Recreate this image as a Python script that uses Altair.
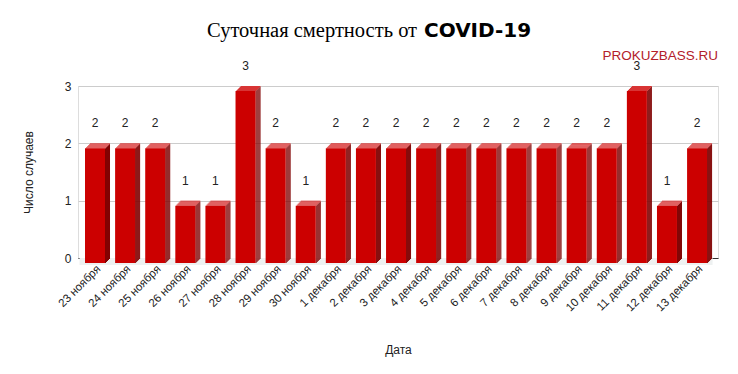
import altair as alt
import pandas as pd

dates = ["23 ноября", "24 ноября", "25 ноября", "26 ноября", "27 ноября", "28 ноября",
         "29 ноября", "30 ноября", "1 декабря", "2 декабря", "3 декабря", "4 декабря",
         "5 декабря", "6 декабря", "7 декабря", "8 декабря", "9 декабря", "10 декабря",
         "11 декабря", "12 декабря", "13 декабря"]
deaths = [2, 2, 2, 1, 1, 3, 2, 1, 2, 2, 2, 2, 2, 2, 2, 2, 2, 2, 3, 1, 2]
y_ticks = [0, 1, 2, 3]

title_serif = "Суточная смертность от"
title_bold = "COVID-19"
watermark = "PROKUZBASS.RU"
x_title = "Дата"
y_title = "Число случаев"

df = pd.DataFrame({"date": dates, "value": deaths, "zero": [0] * len(dates)})

FRONT = "#cc0000"
SIDE = "#800000"
TOP = "#d83434"
FONT = "Liberation Sans"

xscale = alt.Scale(domain=dates, paddingInner=0, paddingOuter=0.13, align=0.25)
yscale = alt.Scale(domain=[0, 3])

x_axis = alt.Axis(title=x_title, labelAngle=315, labelAlign="right", labelBaseline="middle",
                  labelPadding=9, labelOffset=4, ticks=False, grid=False, domainColor="#333333",
                  labelFontSize=11.5, labelColor="#222222", labelFont=FONT,
                  titleFont=FONT, titleFontSize=12, titleFontWeight="normal",
                  titleColor="#222222", titlePadding=31)
y_axis = alt.Axis(title=y_title, values=y_ticks, grid=True, gridColor="#cccccc",
                  domain=False, ticks=False, labelPadding=7, labelFontSize=12,
                  labelColor="#222222", labelFont=FONT, titleFont=FONT, titleFontSize=12,
                  titleFontWeight="normal", titleColor="#222222", titlePadding=29)

X = alt.X("date:N", scale=xscale, axis=x_axis, sort=dates)
Yv = alt.Y("value:Q", scale=yscale, axis=y_axis)
Yz = alt.Y("zero:Q", scale=yscale, axis=y_axis)

base = alt.Chart(df)
layers = []

# floor shadow
layers.append(base.mark_bar(width=31, color="#eef1f1", yOffset=0, y2Offset=7).encode(
    x=X, y=Yz, y2="zero:Q"))

# top face (staircase parallelogram)
for k in range(5):
    layers.append(base.mark_bar(width=20, color=TOP, xOffset=5 - k, yOffset=k, y2Offset=k + 1).encode(
        x=X, y=Yv, y2="value:Q"))

# side face
for j in range(5):
    layers.append(base.mark_bar(width=1, color=SIDE, xOffset=10.5 + j, yOffset=5 - j, y2Offset=5 - j).encode(
        x=X, y=Yv, y2="zero:Q"))

# front face
layers.append(base.mark_bar(width=20, color=FRONT, yOffset=5, y2Offset=5).encode(
    x=X, y=Yv, y2="zero:Q"))

# value labels
layers.append(base.mark_text(dy=-20, fontSize=12, font=FONT, color="#222222").encode(
    x=X, y=Yv, text="value:Q"))

# title parts and watermark
t1 = alt.Chart(pd.DataFrame({"t": [title_serif]})).mark_text(
    font="Liberation Serif", fontSize=20.5, align="left", baseline="alphabetic", color="#000000"
).encode(text="t:N", x=alt.value(129), y=alt.value(-49))
t2 = alt.Chart(pd.DataFrame({"t": [title_bold]})).mark_text(
    font="DejaVu Sans", fontSize=20, fontWeight="bold", align="left", baseline="alphabetic", color="#000000"
).encode(text="t:N", x=alt.value(346), y=alt.value(-49))
wm = alt.Chart(pd.DataFrame({"t": [watermark]})).mark_text(
    font=FONT, fontSize=13.5, align="right", baseline="middle", color="#b3202a"
).encode(text="t:N", x=alt.value(640), y=alt.value(-30))

chart = alt.layer(*layers, t1, t2, wm).properties(
    width=640, height=172,
    autosize=alt.AutoSizeParams(type="none"),
    padding={"left": 70, "top": 78, "right": 12, "bottom": 108},
).configure_view(strokeWidth=0, stroke="transparent").configure(background="white")

chart.save("out.html", embed_options={"renderer": "svg", "actions": False})
